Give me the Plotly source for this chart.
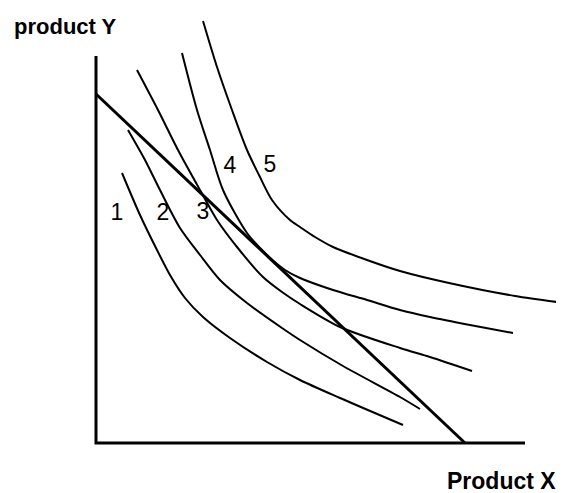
import plotly.graph_objects as go

# Coordinates in chart units (origin at the axes corner)
curve1_x = [26, 44, 61, 74, 89, 107, 134, 171, 204, 244, 307]
curve1_y = [270, 228, 193, 168, 145, 126, 105, 81, 63, 45, 18]

curve2_x = [32, 49, 64, 84, 104, 124, 151, 186, 204, 247, 304, 324]
curve2_y = [313, 283, 253, 215, 188, 163, 140, 115, 103, 77, 46, 34]

curve3_x = [41, 62, 82, 104, 121, 141, 167, 186, 204, 244, 304, 334, 376]
curve3_y = [373, 333, 293, 253, 223, 196, 166, 151, 139, 116, 95, 86, 72]

curve4_x = [86, 101, 114, 127, 151, 171, 189, 204, 237, 271, 304, 334, 374, 417]
curve4_y = [390, 333, 293, 253, 210, 188, 173, 165, 153, 143, 133, 126, 118, 110]

curve5_x = [107, 121, 136, 151, 163, 176, 194, 204, 219, 237, 271, 304, 353, 419, 461]
curve5_y = [422, 376, 333, 293, 268, 243, 223, 216, 206, 196, 183, 172, 160, 147, 141]

budget_x = [0, 369]
budget_y = [349, 0]

axes_x = [0, 0, 429]
axes_y = [387, 0, 0]

label_text = ["1", "2", "3", "4", "5"]
label_x = [21, 67, 107, 134, 174]
label_y = [229, 229, 230, 276, 277]

FONT = "Liberation Sans, Arial, sans-serif"

fig = go.Figure()

for cx, cy in [(curve1_x, curve1_y), (curve2_x, curve2_y), (curve3_x, curve3_y),
               (curve4_x, curve4_y), (curve5_x, curve5_y)]:
    fig.add_trace(go.Scatter(x=cx, y=cy, mode="lines",
                             line=dict(color="black", width=2, shape="spline", smoothing=0.8),
                             hoverinfo="skip", showlegend=False))

fig.add_trace(go.Scatter(x=budget_x, y=budget_y, mode="lines",
                         line=dict(color="black", width=3), showlegend=False))
fig.add_trace(go.Scatter(x=axes_x, y=axes_y, mode="lines",
                         line=dict(color="black", width=3), showlegend=False))

fig.add_trace(go.Scatter(x=label_x, y=label_y, mode="text", text=label_text,
                         textfont=dict(family=FONT, size=23, color="black"),
                         showlegend=False))

fig.add_annotation(x=-84, y=417, text="<b>product Y</b>", showarrow=False, xanchor="left",
                   yanchor="middle", font=dict(family=FONT, size=22, color="black"))
fig.add_annotation(x=349, y=-38, text="<b>Product X</b>", showarrow=False, xanchor="left",
                   yanchor="middle", font=dict(family=FONT, size=23, color="black"))

# page has an 8px body margin; the figure is sized/ranged so the drawing
# lands at the same page positions as the reference
fig.update_layout(
    width=556, height=485,
    margin=dict(l=0, r=0, t=0, b=0),
    paper_bgcolor="white", plot_bgcolor="white",
    xaxis=dict(range=[-88, 468], visible=False, fixedrange=True),
    yaxis=dict(range=[-50, 435], visible=False, fixedrange=True),
)

fig.write_html("out.html")
